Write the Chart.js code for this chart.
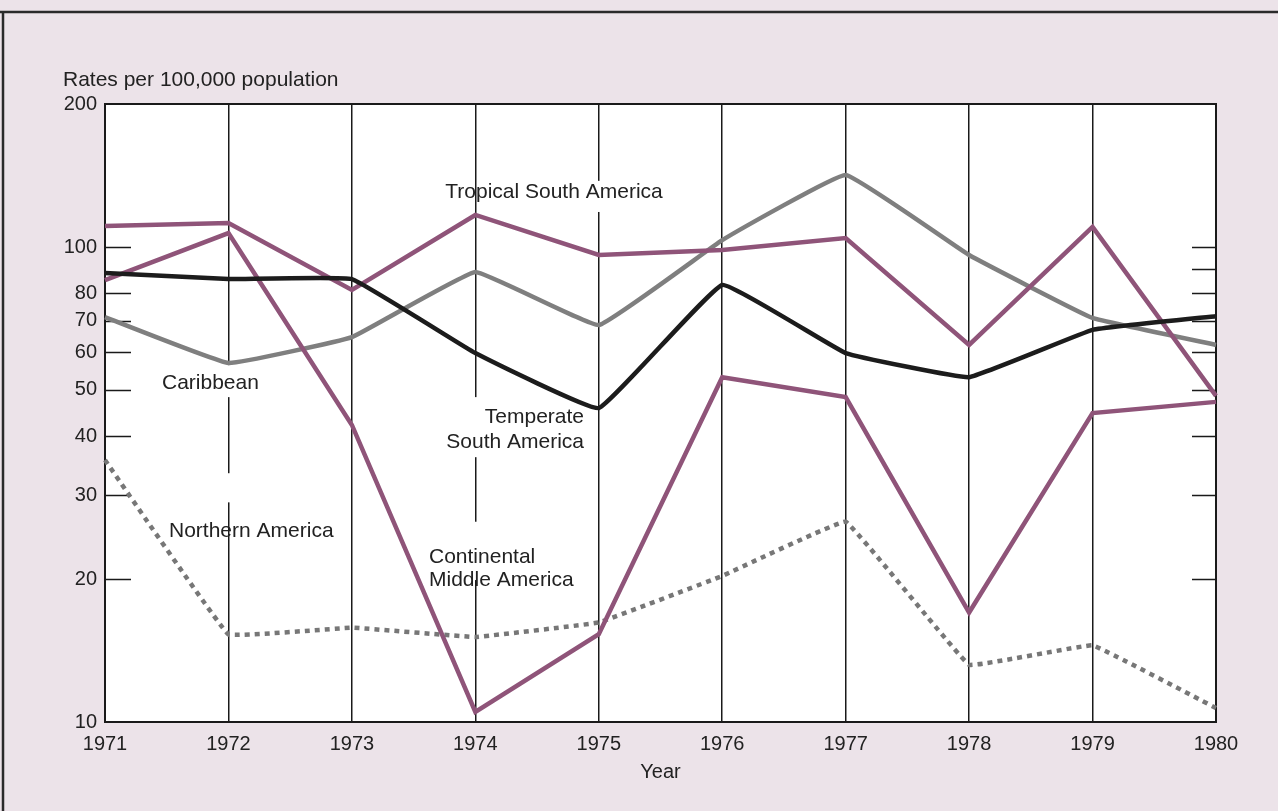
<!DOCTYPE html>
<html>
<head>
<meta charset="utf-8">
<script src="https://cdn.jsdelivr.net/npm/chart.js@4.4.0/dist/chart.umd.min.js"></script>
<style>
html,body{margin:0;padding:0;background:#ece3e9;}
#wrap{width:1278px;height:811px;position:relative;}
</style>
</head>
<body>
<div id="wrap"><canvas id="c" width="1278" height="811"></canvas></div>
<script>
const years = ['1971','1972','1973','1974','1975','1976','1977','1978','1979','1980'];
const tropicalSouthAmerica     = [110.7, 112.3, 81.2, 116.8, 96.2, 98.6, 104.4, 62.2, 110.2, 48.6];
const continentalMiddleAmerica = [85.2, 107.0, 42.2, 10.5, 15.3, 53.2, 48.3, 17.0, 44.7, 47.2];
const temperateSouthAmerica    = [88.2, 85.6, 85.6, 59.8, 45.8, 83.2, 59.8, 53.2, 66.9, 71.5];
const caribbean                = [71.2, 57.0, 64.6, 88.6, 68.5, 103.4, 141.8, 96.2, 70.9, 62.2];
const northernAmerica          = [35.6, 15.3, 15.8, 15.1, 16.2, 20.3, 26.4, 13.2, 14.5, 10.7];
const yTickLabels = [10, 20, 30, 40, 50, 60, 70, 80, 100, 200];
const leftTickValues = [20, 30, 40, 50, 60, 70, 80, 100];
const rightTickValues = [20, 30, 40, 50, 60, 70, 80, 90, 100];

const FONT = '"Liberation Sans", Arial, Helvetica, sans-serif';
const TEXT = '#222222';
const PURPLE = '#8f5479';
const GRAY = '#7f7f7f';
const BLACK = '#1c1c1c';

// gaps in vertical grid lines: [category index, lower value, upper value]
const gridGaps = [
  [1, 48.3, 56.4],
  [1, 29.0, 33.4],
  [3, 36.1, 48.3],
  [3, 19.9, 26.4],
  [4, 118.5, 137.8]
];

const annotations = [
  {text: 'Tropical South America', x: 554, y: 192, align: 'center'},
  {text: 'Caribbean', x: 162, y: 383, align: 'left'},
  {text: 'Temperate', x: 584, y: 417, align: 'right'},
  {text: 'South America', x: 584, y: 442, align: 'right'},
  {text: 'Northern America', x: 169, y: 531, align: 'left'},
  {text: 'Continental', x: 429, y: 557, align: 'left'},
  {text: 'Middle America', x: 429, y: 580, align: 'left'}
];

const decor = {
  id: 'decor',
  beforeDraw(chart) {
    const {ctx, chartArea: a} = chart;
    ctx.save();
    ctx.fillStyle = '#ece3e9';
    ctx.fillRect(0, 0, chart.width, chart.height);
    ctx.fillStyle = '#ffffff';
    ctx.fillRect(a.left, a.top, a.right - a.left, a.bottom - a.top);
    ctx.strokeStyle = '#2a2a2a';
    ctx.lineWidth = 2.5;
    ctx.beginPath();
    ctx.moveTo(0, 12); ctx.lineTo(chart.width, 12);
    ctx.moveTo(3, 12); ctx.lineTo(3, chart.height);
    ctx.stroke();
    ctx.restore();
  },
  beforeDatasetsDraw(chart) {
    const {ctx, chartArea: a, scales: {x, y}} = chart;
    ctx.save();
    ctx.fillStyle = '#ffffff';
    gridGaps.forEach(([i, lo, hi]) => {
      const px = x.getPixelForValue(i);
      const y1 = y.getPixelForValue(hi), y2 = y.getPixelForValue(lo);
      ctx.fillRect(px - 3, y1, 6, y2 - y1);
    });
    ctx.strokeStyle = '#1a1a1a';
    ctx.lineWidth = 1.6;
    ctx.beginPath();
    leftTickValues.forEach(v => {
      const py = Math.round(y.getPixelForValue(v)) + 0.5;
      ctx.moveTo(a.left, py); ctx.lineTo(a.left + 26, py);
    });
    rightTickValues.forEach(v => {
      const py = Math.round(y.getPixelForValue(v)) + 0.5;
      ctx.moveTo(a.right - 24, py); ctx.lineTo(a.right, py);
    });
    ctx.stroke();
    ctx.lineWidth = 2;
    ctx.strokeRect(a.left, a.top, a.right - a.left, a.bottom - a.top);
    ctx.restore();
  },
  afterDraw(chart) {
    const {ctx} = chart;
    ctx.save();
    ctx.fillStyle = TEXT;
    ctx.textBaseline = 'middle';
    ctx.font = '21px ' + FONT;
    ctx.textAlign = 'left';
    ctx.fillText('Rates per 100,000 population', 63, 80);
    annotations.forEach(l => {
      ctx.textAlign = l.align;
      ctx.fillText(l.text, l.x, l.y);
    });
    ctx.restore();
  }
};

new Chart(document.getElementById('c'), {
  type: 'line',
  data: {
    labels: years,
    datasets: [
      {label: 'Temperate South America', data: temperateSouthAmerica, borderColor: BLACK, borderWidth: 4.5, tension: 0.08, pointRadius: 0, fill: false},
      {label: 'Tropical South America', data: tropicalSouthAmerica, borderColor: PURPLE, borderWidth: 4.5, tension: 0, pointRadius: 0, fill: false},
      {label: 'Continental Middle America', data: continentalMiddleAmerica, borderColor: PURPLE, borderWidth: 4.5, tension: 0, pointRadius: 0, fill: false},
      {label: 'Caribbean', data: caribbean, borderColor: GRAY, borderWidth: 4.5, tension: 0.08, pointRadius: 0, fill: false},
      {label: 'Northern America', data: northernAmerica, borderColor: '#777777', borderWidth: 4.5, borderDash: [5, 5], tension: 0.05, pointRadius: 0, fill: false}
    ]
  },
  options: {
    responsive: false,
    devicePixelRatio: 1,
    animation: false,
    layout: {padding: {left: 0, right: 62, top: 104, bottom: 0}},
    plugins: {legend: {display: false}, tooltip: {enabled: false}, title: {display: false}},
    scales: {
      x: {
        type: 'category',
        offset: false,
        grid: {color: '#1a1a1a', lineWidth: 1.5, drawTicks: false, drawOnChartArea: true},
        border: {display: false},
        ticks: {font: {family: FONT, size: 20}, color: TEXT, padding: 10, maxRotation: 0, autoSkip: false},
        title: {display: true, text: 'Year', font: {family: FONT, size: 20}, color: TEXT, padding: {top: 0, bottom: 27}},
        afterFit(s) { s.height = 89; }
      },
      y: {
        type: 'logarithmic',
        min: 10,
        max: 200,
        afterBuildTicks(s) { s.ticks = yTickLabels.map(v => ({value: v})); },
        ticks: {font: {family: FONT, size: 20}, color: TEXT, padding: 8, callback: v => String(v), autoSkip: false},
        grid: {display: false, drawTicks: false},
        border: {display: false},
        afterFit(s) { s.width = 105; }
      }
    }
  },
  plugins: [decor]
});
</script>
</body>
</html>
